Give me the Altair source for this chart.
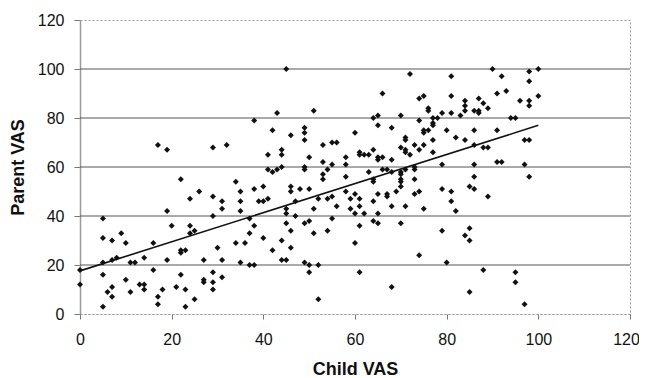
import altair as alt
import pandas as pd

# Child VAS (x) and Parent VAS (y)
child_vas = [
    17, 19, 29, 32, 38,
    45, 72, 66, 75, 74, 76, 76, 43, 51, 65, 64, 70, 74, 77, 77, 78, 77, 42, 46, 49, 49, 49, 65, 68, 60,
    75, 75, 76, 71, 71, 77, 73, 75, 53, 55, 56, 44, 44, 41, 50, 58, 53, 55, 58, 61, 61, 62, 63, 64, 65,
    65, 66, 68, 70, 71, 71, 72, 74, 77, 49, 49, 41, 42, 43, 44, 54, 63, 66, 67, 68, 70, 71, 73, 73,
    38, 40, 39, 40, 41, 46, 46, 48, 50, 47, 45, 45, 47, 38, 37, 40, 44, 42, 46, 44, 45, 37, 38, 45, 46,
    49, 50, 51, 49, 50, 50, 52, 52, 52, 51, 54, 55, 53, 53, 58, 58, 56, 55, 54, 59, 60, 61, 61, 60, 62,
    59, 61, 60, 61, 64, 64, 65, 64, 65, 64, 65, 67, 67, 68, 69, 70, 70, 70, 70, 71, 70, 73, 73, 74, 75,
    74, 68,
    90, 100, 98, 81, 92, 98, 93, 91, 81, 100, 96, 98, 98, 87, 88, 89, 84, 84, 84, 86, 87, 87, 79, 81, 83,
    94, 95, 80, 86, 91, 82, 84, 97, 98, 86, 88, 89, 79, 86, 91, 92, 97,
    86, 98, 79, 81, 85, 86, 89, 81, 82, 79, 85, 84, 85, 80, 88, 95, 95, 85, 97,
    22, 34, 26, 24, 35, 35, 35, 29, 31, 31, 19, 5, 29, 20, 24, 24, 25, 5, 7, 9, 10, 16, 37, 36, 22,
    22, 23, 30, 14, 12, 5, 7, 8, 11, 19, 27, 31, 35, 0, 0, 5, 10, 6, 7, 7, 5, 11, 13, 14, 14, 16, 17,
    17, 18, 21, 22, 23, 23, 25, 27, 27, 29, 29, 29, 31, 34,
]
parent_vas = [
    69, 67, 68, 69, 79,
    100, 98, 90, 89, 88, 84, 83, 82, 83, 81, 80, 81, 79, 80, 78, 80, 77, 75, 73, 76, 74, 71, 77, 76, 74,
    75, 74, 75, 72, 71, 71, 69, 69, 69, 70, 70, 67, 65, 65, 64, 64, 62, 61, 61, 66, 65, 65, 65, 67, 64,
    63, 64, 63, 68, 67, 66, 65, 67, 66, 60, 59, 59, 58, 59, 60, 59, 58, 59, 59, 58, 58, 59, 60, 59,
    51, 52, 46, 46, 47, 52, 50, 51, 51, 46, 43, 41, 40, 36, 33, 31, 30, 26, 27, 22, 22, 20, 20, 37, 34,
    37, 38, 33, 21, 20, 17, 20, 6, 47, 43, 47, 48, 57, 55, 56, 50, 44, 39, 34, 47, 49, 47, 44, 41, 41,
    43, 36, 29, 17, 55, 54, 49, 46, 41, 38, 37, 49, 48, 44, 50, 57, 55, 54, 52, 44, 37, 55, 49, 50, 43,
    24, 11,
    100, 100, 99, 97, 97, 95, 91, 90, 89, 89, 87, 87, 85, 88, 86, 84, 87, 85, 83, 83, 83, 82, 82, 82, 81,
    80, 80, 75, 75, 75, 72, 71, 71, 71, 69, 68, 68, 61, 61, 62, 62, 61,
    56, 56, 51, 50, 52, 51, 48, 46, 42, 34, 35, 32, 30, 21, 18, 17, 13, 9, 4,
    55, 54, 50, 47, 50, 46, 42, 48, 46, 43, 42, 39, 40, 36, 36, 33, 34, 31, 30, 33, 29, 29, 39, 29, 26,
    25, 26, 27, 23, 21, 21, 22, 23, 21, 22, 22, 22, 21, 18, 12, 16, 14, 9, 11, 7, 3, 9, 12, 12, 10, 18, 7,
    4, 10, 11, 16, 10, 3, 6, 14, 13, 17, 13, 10, 15, 29,
]

# Trend line end points and horizontal gridline levels
trend_x = [0, 100]
trend_y = [17.6, 77.0]
grid_levels = [20, 40, 60, 80, 100]
axis_ticks = [0, 20, 40, 60, 80, 100, 120]

pts = pd.DataFrame({"child": child_vas, "parent": parent_vas})
trend = pd.DataFrame({"child": trend_x, "parent": trend_y})
grid = pd.DataFrame({"level": grid_levels})

FONT = "Liberation Sans"

x_scale = alt.Scale(domain=[0, 120], nice=False, zero=False)
y_scale = alt.Scale(domain=[0, 120], nice=False, zero=False)

x_axis = alt.Axis(
    values=axis_ticks, grid=False, title="Child VAS", labelFlush=False,
    labelOffset=alt.condition("datum.value == 120", alt.value(-4), alt.value(0)),
    labelFont=FONT, labelFontSize=16, labelColor="#111", labelPadding=12,
    tickSize=5, tickColor="#777", domainColor="#9a9a9a", domainDash=[2, 2],
    titleFont=FONT, titleFontSize=18, titleFontWeight="bold", titleColor="#111",
    titleY=55, titleBaseline="middle",
)
y_axis = alt.Axis(
    values=axis_ticks, grid=False, title="Parent VAS", labelFlush=False,
    labelFont=FONT, labelFontSize=16, labelColor="#111", labelPadding=10,
    tickSize=6, tickColor="#777", domainColor="#9a9a9a", domainWidth=1.5,
    titleFont=FONT, titleFontSize=18, titleFontWeight="bold", titleColor="#111",
    titleAngle=270, titleX=-62, titleY=147, titleAlign="center", titleBaseline="middle",
)

grid_layer = alt.Chart(grid).mark_rule(color="#555", strokeWidth=1).encode(
    y=alt.Y("level:Q", scale=y_scale, axis=y_axis)
)

points = alt.Chart(pts).mark_point(
    shape="diamond", filled=True, color="#111", size=36, opacity=1
).encode(
    x=alt.X("child:Q", scale=x_scale, axis=x_axis),
    y=alt.Y("parent:Q", scale=y_scale, axis=y_axis),
)

line = alt.Chart(trend).mark_line(color="#111", strokeWidth=1.6).encode(
    x=alt.X("child:Q", scale=x_scale, axis=x_axis),
    y=alt.Y("parent:Q", scale=y_scale, axis=y_axis),
)

chart = alt.layer(grid_layer, points, line).properties(
    width=550,
    height=294,
    autosize=alt.AutoSizeParams(type="none"),
    padding={"left": 72, "top": 12, "right": 9, "bottom": 64},
    background="white",
).configure_view(
    stroke="#9a9a9a", strokeDash=[2, 2], strokeWidth=1
)

chart.save("out.html", embed_options={"renderer": "svg", "actions": False})
